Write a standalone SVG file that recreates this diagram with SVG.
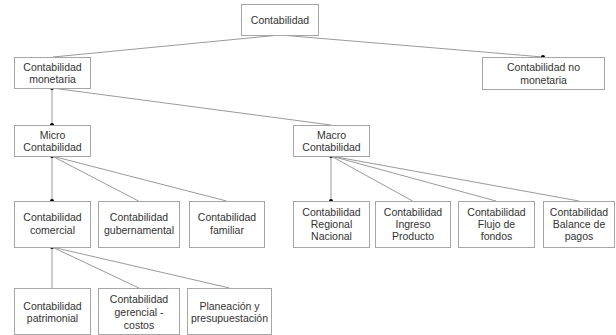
<svg xmlns="http://www.w3.org/2000/svg" width="616" height="335" viewBox="0 0 616 335">
<style>
.box{fill:#fff;stroke:#a6a6a6;stroke-width:1}
.t{font-family:"Liberation Sans",Arial,sans-serif;font-size:10.5px;fill:#333;text-anchor:middle}
.ln{stroke:#9a9a9a;stroke-width:1;fill:none}
.dot{fill:#000}
</style>
<rect width="616" height="335" fill="#fff"/>
<g id="connectors">
<path class="ln" d="M280,35 L53,57 M280,35 L543,57"/>
<path class="ln" d="M52,88 L52,125 M52,88 L331,125"/>
<path class="ln" d="M52,156 L52,201 M52,156 L138.5,201 M52,156 L226.5,201"/>
<path class="ln" d="M52,247 L52,288 M52,247 L139,288 M52,247 L229.5,288"/>
<path class="ln" d="M331,156 L331,201 M331,156 L412.5,201 M331,156 L496,201 M331,156 L579,201"/>
<circle class="dot" cx="543" cy="57" r="2"/>
<circle class="dot" cx="52" cy="88" r="2"/>
<circle class="dot" cx="52" cy="125" r="2"/>
<circle class="dot" cx="52" cy="156" r="2"/>
<circle class="dot" cx="52" cy="201" r="2"/>
<circle class="dot" cx="52" cy="247" r="2"/>
<circle class="dot" cx="331" cy="156" r="2"/>
<circle class="dot" cx="331" cy="201" r="2"/>
</g>
<g id="n-contabilidad"><rect class="box" x="241.5" y="4.5" width="77" height="31"/><text class="t" x="280" y="23.5">Contabilidad</text></g>
<g id="n-monetaria"><rect class="box" x="14.5" y="57.5" width="76" height="31"/><text class="t" x="52.5" y="70.5">Contabilidad</text><text class="t" x="52.5" y="83">monetaria</text></g>
<g id="n-nomonetaria"><rect class="box" x="482.5" y="57.5" width="122" height="32"/><text class="t" x="543.5" y="71">Contabilidad no</text><text class="t" x="543.5" y="83.5">monetaria</text></g>
<g id="n-micro"><rect class="box" x="14.5" y="125.5" width="76" height="31"/><text class="t" x="52.5" y="138.5">Micro</text><text class="t" x="52.5" y="151">Contabilidad</text></g>
<g id="n-macro"><rect class="box" x="293.5" y="125.5" width="76" height="31"/><text class="t" x="331.5" y="138.5">Macro</text><text class="t" x="331.5" y="151">Contabilidad</text></g>
<g id="n-comercial"><rect class="box" x="14.5" y="201.5" width="76" height="46"/><text class="t" x="52.5" y="221">Contabilidad</text><text class="t" x="52.5" y="234">comercial</text></g>
<g id="n-gubernamental"><rect class="box" x="98.5" y="201.5" width="81" height="46"/><text class="t" x="139" y="221">Contabilidad</text><text class="t" x="139" y="234">gubernamental</text></g>
<g id="n-familiar"><rect class="box" x="189.5" y="201.5" width="75" height="46"/><text class="t" x="227" y="221">Contabilidad</text><text class="t" x="227" y="234">familiar</text></g>
<g id="n-regional"><rect class="box" x="293.5" y="201.5" width="76" height="46"/><text class="t" x="331.5" y="215.5">Contabilidad</text><text class="t" x="331.5" y="227.5">Regional</text><text class="t" x="331.5" y="239.5">Nacional</text></g>
<g id="n-ingreso"><rect class="box" x="375.5" y="201.5" width="75" height="46"/><text class="t" x="413" y="215.5">Contabilidad</text><text class="t" x="413" y="227.5">Ingreso</text><text class="t" x="413" y="239.5">Producto</text></g>
<g id="n-flujo"><rect class="box" x="458.5" y="201.5" width="76" height="46"/><text class="t" x="496.5" y="215.5">Contabilidad</text><text class="t" x="496.5" y="227.5">Flujo de</text><text class="t" x="496.5" y="239.5">fondos</text></g>
<g id="n-balance"><rect class="box" x="543.5" y="201.5" width="71" height="46"/><text class="t" x="579" y="215.5">Contabilidad</text><text class="t" x="579" y="227.5">Balance de</text><text class="t" x="579" y="239.5">pagos</text></g>
<g id="n-patrimonial"><rect class="box" x="14.5" y="288.5" width="76" height="46"/><text class="t" x="52.5" y="309.5">Contabilidad</text><text class="t" x="52.5" y="322">patrimonial</text></g>
<g id="n-gerencial"><rect class="box" x="98.5" y="288.5" width="81" height="46"/><text class="t" x="139" y="303">Contabilidad</text><text class="t" x="139" y="316">gerencial -</text><text class="t" x="139" y="328.5">costos</text></g>
<g id="n-planeacion"><rect class="box" x="187.5" y="288.5" width="84" height="46"/><text class="t" x="229.5" y="309.5">Planeación y</text><text class="t" x="229.5" y="322">presupuestación</text></g>
</svg>
